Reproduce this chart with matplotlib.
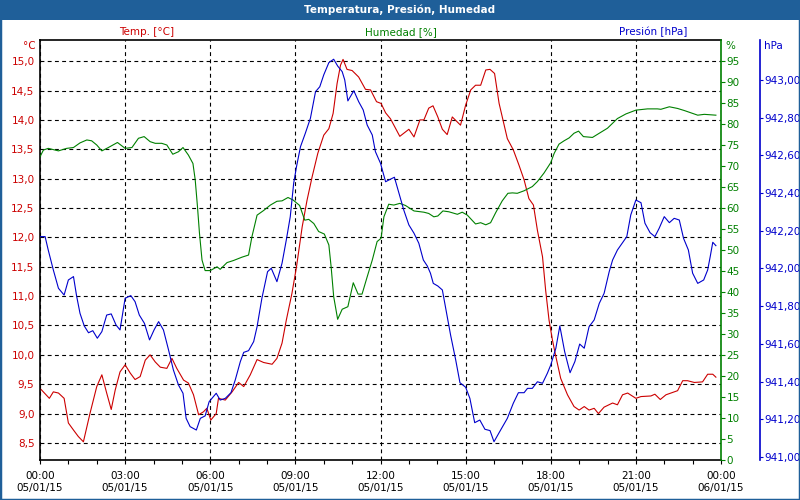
import matplotlib
matplotlib.use("Agg")
import matplotlib.pyplot as plt
import matplotlib.patches as patches
from matplotlib.ticker import FixedLocator, FuncFormatter

# ---------------- data ----------------
temp_hours = [0.00, 0.33, 0.47, 0.65, 0.85, 1.00, 1.18, 1.35, 1.53, 1.76, 2.00, 2.18, 2.35, 2.51, 2.65,
              2.82, 3.00, 3.18, 3.35, 3.53, 3.71, 3.88, 4.06, 4.24, 4.47, 4.65, 4.82, 5.06, 5.23, 5.41,
              5.59, 5.76, 5.88, 6.02, 6.21, 6.29, 6.53, 6.77, 7.00, 7.18, 7.41, 7.65, 7.88, 8.18, 8.35,
              8.53, 8.68, 8.88, 9.04, 9.24, 9.41, 9.59, 9.79, 10.00, 10.18, 10.33, 10.47, 10.59, 10.68,
              10.82, 11.00, 11.23, 11.47, 11.65, 11.86, 12.02, 12.18, 12.35, 12.68, 13.00, 13.18, 13.39,
              13.53, 13.70, 13.85, 14.02, 14.18, 14.35, 14.53, 14.82, 15.00, 15.18, 15.35, 15.53, 15.71,
              15.86, 16.02, 16.18, 16.33, 16.47, 16.68, 16.88, 17.06, 17.23, 17.39, 17.53, 17.71, 17.82,
              17.94, 18.06, 18.18, 18.35, 18.59, 18.82, 19.00, 19.18, 19.35, 19.53, 19.68, 19.88, 20.18,
              20.35, 20.53, 20.71, 21.00, 21.18, 21.53, 21.67, 21.86, 22.06, 22.24, 22.47, 22.65, 22.82,
              23.06, 23.35, 23.53, 23.71, 23.82]
temp_values = [9.43, 9.26, 9.37, 9.35, 9.26, 8.84, 8.72, 8.61, 8.52, 9.00, 9.46, 9.66, 9.35, 9.07, 9.40,
               9.71, 9.83, 9.69, 9.58, 9.63, 9.91, 10.00, 9.88, 9.79, 9.77, 9.94, 9.77, 9.57, 9.52, 9.32,
               8.98, 9.03, 9.09, 8.89, 9.00, 9.26, 9.23, 9.37, 9.53, 9.46, 9.66, 9.92, 9.87, 9.84, 9.94,
               10.20, 10.59, 11.05, 11.50, 12.18, 12.63, 13.03, 13.43, 13.74, 13.85, 14.11, 14.62, 14.93, 15.03,
               14.86, 14.84, 14.73, 14.52, 14.51, 14.31, 14.28, 14.12, 14.02, 13.72, 13.84, 13.71, 14.00,
               14.00, 14.20, 14.24, 14.05, 13.84, 13.75, 14.05, 13.91, 14.25, 14.51, 14.59, 14.59, 14.85,
               14.86, 14.79, 14.28, 13.97, 13.68, 13.49, 13.23, 12.98, 12.66, 12.55, 12.12, 11.67, 11.10,
               10.59, 10.25, 9.97, 9.60, 9.32, 9.12, 9.06, 9.12, 9.06, 9.09, 9.00, 9.11, 9.18,
               9.15, 9.32, 9.35, 9.26, 9.29, 9.30, 9.33, 9.24, 9.32, 9.35, 9.39, 9.56, 9.56,
               9.53, 9.54, 9.67, 9.67, 9.62]

hum_hours = [0.00, 0.12, 0.29, 0.65, 0.94, 1.18, 1.41, 1.65, 1.82, 2.00, 2.18, 2.41, 2.73, 3.00, 3.24,
             3.47, 3.67, 3.88, 4.06, 4.29, 4.47, 4.68, 4.88, 5.04, 5.23, 5.39, 5.47, 5.55, 5.62, 5.71,
             5.82, 6.00, 6.24, 6.35, 6.59, 6.82, 7.12, 7.35, 7.47, 7.65, 7.88, 8.12, 8.35, 8.53, 8.74,
             8.92, 9.15, 9.33, 9.47, 9.65, 9.82, 10.02, 10.18, 10.26, 10.35, 10.49, 10.65, 10.85, 11.04,
             11.21, 11.35, 11.53, 11.71, 11.88, 12.02, 12.12, 12.29, 12.47, 12.68, 12.88, 13.18, 13.53,
             13.70, 13.88, 14.02, 14.20, 14.41, 14.71, 14.88, 15.06, 15.35, 15.53, 15.71, 15.88, 16.06,
             16.29, 16.49, 16.65, 16.82, 17.06, 17.35, 17.53, 17.76, 18.00, 18.12, 18.29, 18.47, 18.65,
             18.82, 18.98, 19.15, 19.47, 19.71, 20.00, 20.35, 20.65, 21.00, 21.41, 21.76, 21.88, 22.18,
             22.47, 22.71, 23.18, 23.41, 23.82]
hum_values = [72.2, 73.8, 74.2, 73.6, 74.2, 74.4, 75.5, 76.2, 76.0, 75.0, 73.6, 74.4, 75.6, 74.2, 74.4,
              76.6, 77.0, 75.8, 75.4, 75.4, 75.0, 72.8, 73.4, 74.4, 72.6, 70.6, 66.7, 60.3, 54.0, 47.6,
              45.1, 45.1, 46.0, 45.4, 47.0, 47.5, 48.3, 48.8, 53.2, 58.3, 59.4, 60.7, 61.6, 61.7, 62.5,
              61.9, 60.6, 57.1, 57.3, 56.3, 54.4, 53.8, 51.2, 46.0, 38.9, 33.5, 35.9, 36.5, 42.2,
              39.5, 39.5, 43.6, 47.6, 52.0, 52.8, 57.9, 60.9, 60.7, 61.1, 60.6, 59.3, 59.0,
              58.7, 57.9, 58.1, 59.3, 59.1, 58.5, 59.0, 58.3, 56.2, 56.5, 56.0, 56.5, 58.9,
              61.7, 63.5, 63.6, 63.5, 64.1, 65.1, 66.3, 68.3, 70.8, 73.0, 75.2, 76.0, 76.7,
              77.8, 78.3, 77.0, 76.8, 77.8, 79.0, 81.3, 82.4, 83.3, 83.6, 83.6, 83.5, 84.1,
              83.7, 83.2, 82.1, 82.3, 82.1]

pres_hours = [0.00, 0.18, 0.29, 0.47, 0.65, 0.85, 1.00, 1.18, 1.29, 1.41, 1.56, 1.71, 1.86, 2.02, 2.18,
              2.35, 2.51, 2.68, 2.82, 3.00, 3.20, 3.35, 3.50, 3.68, 3.86, 4.02, 4.18, 4.35, 4.53, 4.70,
              4.88, 5.04, 5.15, 5.29, 5.51, 5.65, 5.82, 5.96, 6.21, 6.35, 6.53, 6.73, 6.88, 7.06, 7.18,
              7.35, 7.53, 7.65, 7.82, 8.02, 8.15, 8.35, 8.53, 8.68, 8.82, 8.94, 9.04, 9.18, 9.35, 9.53,
              9.71, 9.86, 10.00, 10.18, 10.35, 10.49, 10.65, 10.74, 10.85, 11.06, 11.23, 11.39, 11.53,
              11.71, 11.82, 12.00, 12.18, 12.29, 12.49, 12.65, 12.82, 13.00, 13.18, 13.35, 13.51, 13.65,
              13.76, 13.86, 14.02, 14.18, 14.33, 14.47, 14.65, 14.80, 15.00, 15.15, 15.32, 15.50, 15.68,
              15.86, 16.00, 16.18, 16.47, 16.68, 16.86, 17.06, 17.18, 17.35, 17.53, 17.71, 17.88, 18.00,
              18.18, 18.32, 18.49, 18.68, 18.85, 19.02, 19.18, 19.35, 19.53, 19.71, 19.88, 20.06, 20.18,
              20.35, 20.53, 20.68, 20.82, 21.00, 21.18, 21.32, 21.50, 21.67, 21.82, 22.00, 22.18, 22.35,
              22.53, 22.68, 22.85, 23.00, 23.18, 23.39, 23.53, 23.62, 23.71, 23.82]
pres_values = [942.169, 942.169, 942.098, 941.992, 941.895, 941.859, 941.939, 941.957, 941.854, 941.762,
               941.695, 941.659, 941.670, 941.630, 941.665, 941.753, 941.759, 941.700, 941.674, 941.842,
               941.856, 941.824, 941.753, 941.709, 941.621, 941.674, 941.718, 941.674, 941.568, 941.462,
               941.382, 941.338, 941.205, 941.161, 941.143, 941.205, 941.218, 941.293, 941.338, 941.302,
               941.311, 941.341, 941.408, 941.506, 941.555, 941.564, 941.612, 941.691, 941.842, 941.983,
               942.001, 941.930, 942.028, 942.151, 942.275, 942.452, 942.540, 942.646, 942.717, 942.797,
               942.938, 942.964, 943.027, 943.092, 943.110, 943.074, 943.044, 943.000, 942.889, 942.943,
               942.885, 942.841, 942.761, 942.708, 942.620, 942.558, 942.460, 942.469, 942.484, 942.399,
               942.310, 942.231, 942.187, 942.134, 942.045, 942.013, 941.975, 941.921, 941.907, 941.886,
               941.762, 941.647, 941.515, 941.394, 941.370, 941.311, 941.182, 941.196, 941.147, 941.140,
               941.081, 941.129, 941.205, 941.285, 941.341, 941.341, 941.364, 941.364, 941.399, 941.391,
               941.444, 941.488, 941.577, 941.695, 941.559, 941.447, 941.506, 941.599, 941.577, 941.691,
               941.727, 941.815, 941.868, 941.983, 942.045, 942.098, 942.137, 942.169, 942.284, 942.363,
               942.349, 942.240, 942.190, 942.169, 942.213, 942.275, 942.243, 942.266, 942.257, 942.160,
               942.098, 941.975, 941.921, 941.939, 941.992, 942.063, 942.139, 942.121]

x_tick_hours = [0, 3, 6, 9, 12, 15, 18, 21, 24]
x_tick_labels = ["00:00\n05/01/15", "03:00\n05/01/15", "06:00\n05/01/15", "09:00\n05/01/15",
                 "12:00\n05/01/15", "15:00\n05/01/15", "18:00\n05/01/15", "21:00\n05/01/15",
                 "00:00\n06/01/15"]
temp_ticks = [8.5, 9.0, 9.5, 10.0, 10.5, 11.0, 11.5, 12.0, 12.5, 13.0, 13.5, 14.0, 14.5, 15.0]
hum_ticks = list(range(0, 100, 5))
pres_ticks = [941.0, 941.2, 941.4, 941.6, 941.8, 942.0, 942.2, 942.4, 942.6, 942.8, 943.0]

title = "Temperatura, Presión, Humedad"
series_names = ["Temp. [°C]", "Humedad [%]", "Presión [hPa]"]
units = ["°C", "%", "hPa"]

# ---------------- style ----------------
BAR = "#1f5f99"
RED = "#cc0000"
GREEN = "#008000"
BLUE = "#0000cc"
FS = 7.5
LW = 0.8
W, H = 800, 500

plt.rcParams["font.family"] = ["DejaVu Sans"]

fig = plt.figure(figsize=(8, 5), dpi=100)
fig.patches.append(patches.Rectangle((0, 1 - 20 / H), 1, 20 / H, transform=fig.transFigure,
                                     facecolor=BAR, edgecolor="none", zorder=0))
fig.patches.append(patches.Rectangle((0, 0), 1, 1, transform=fig.transFigure, fill=False,
                                     edgecolor=BAR, linewidth=2.5, zorder=10))
fig.text(0.5, 1 - 10 / H, title, color="white", fontweight="bold", ha="center", va="center", fontsize=7.5)

L, R, T, B = 40, 721, 40, 460
ax = fig.add_axes([L / W, 1 - B / H, (R - L) / W, (B - T) / H])
ax_h = ax.twinx()
ax_p = ax.twinx()

# host (temperature)
ax.plot(temp_hours, temp_values, color=RED, lw=LW)
ax.set_xlim(0, 24)
ax.set_ylim(8.21, 15.36)
ax.yaxis.set_major_locator(FixedLocator(temp_ticks))
ax.yaxis.set_major_formatter(FuncFormatter(lambda v, p: f"{v:.1f}".replace(".", ",")))
ax.tick_params(axis="y", length=0, pad=4, labelcolor=RED, labelsize=FS)
ax.xaxis.set_major_locator(FixedLocator(x_tick_hours))
ax.xaxis.set_minor_locator(FixedLocator(range(0, 25)))
ax.set_xticklabels(x_tick_labels)
ax.tick_params(axis="x", which="both", length=3, width=0.8, direction="out", pad=5,
               labelsize=FS, colors="black")
ax.grid(True, which="major", color="black", linestyle=(0, (3.5, 3)), linewidth=0.8)
for s in ["left", "top", "bottom"]:
    ax.spines[s].set_color("black")
    ax.spines[s].set_linewidth(1.2)
ax.spines["right"].set_visible(False)

# humidity
ax_h.plot(hum_hours, hum_values, color=GREEN, lw=LW)
ax_h.set_ylim(0, 100)
ax_h.yaxis.set_major_locator(FixedLocator(hum_ticks))
ax_h.yaxis.set_major_formatter(FuncFormatter(lambda v, p: f"{v:.0f}"))
ax_h.tick_params(axis="y", length=3, width=0.8, color=GREEN, labelcolor=GREEN, pad=1, labelsize=FS)
for s in ["left", "top", "bottom"]:
    ax_h.spines[s].set_visible(False)
ax_h.spines["right"].set_color(GREEN)
ax_h.spines["right"].set_linewidth(1.2)

# pressure
ax_p.plot(pres_hours, pres_values, color=BLUE, lw=LW)
ax_p.set_ylim(940.984, 943.212)
ax_p.spines["right"].set_position(("axes", (760 - L) / (R - L)))
ax_p.yaxis.set_major_locator(FixedLocator(pres_ticks))
ax_p.yaxis.set_major_formatter(FuncFormatter(lambda v, p: f"{v:.2f}".replace(".", ",")))
ax_p.tick_params(axis="y", length=2, width=0.8, color=BLUE, labelcolor=BLUE, pad=1, labelsize=FS)
for s in ["left", "top", "bottom"]:
    ax_p.spines[s].set_visible(False)
ax_p.spines["right"].set_color(BLUE)
ax_p.spines["right"].set_linewidth(1.2)

# series names and units
fig.text(147 / W, 1 - 32 / H, series_names[0], color=RED, ha="center", va="center", fontsize=FS)
fig.text(401 / W, 1 - 32 / H, series_names[1], color=GREEN, ha="center", va="center", fontsize=FS)
fig.text(653 / W, 1 - 32 / H, series_names[2], color=BLUE, ha="center", va="center", fontsize=FS)
fig.text(36 / W, 1 - 46 / H, units[0], color=RED, ha="right", va="center", fontsize=FS)
fig.text(725 / W, 1 - 46 / H, units[1], color=GREEN, ha="left", va="center", fontsize=FS)
fig.text(764 / W, 1 - 46 / H, units[2], color=BLUE, ha="left", va="center", fontsize=FS)

fig.savefig("out.png", dpi=100)
